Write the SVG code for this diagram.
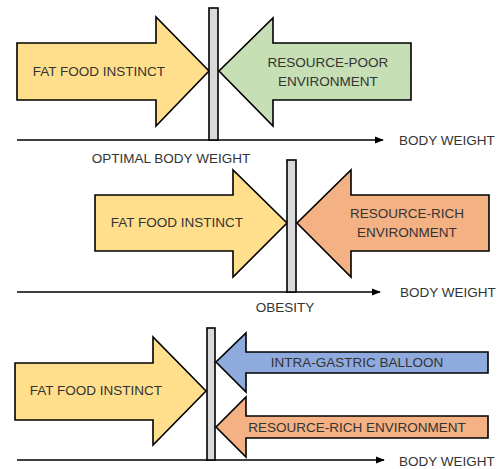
<svg xmlns="http://www.w3.org/2000/svg" width="500" height="469" viewBox="0 0 500 469">
<defs>
<style>
.ar{stroke:#000;stroke-width:1.6;stroke-linejoin:miter}
.y{fill:#FFDF8C}.g{fill:#C6DFB4}.o{fill:#F4B183}.b{fill:#8FAADC}
.bar{fill:#D9D9D9;stroke:#000;stroke-width:1.6}
.ax{stroke:#000;stroke-width:1.6;fill:none}
text{font-family:"Liberation Sans",Arial,sans-serif;font-size:13.5px;fill:#333333}
.m{text-anchor:middle}
</style>
<marker id="ah" viewBox="0 0 10 10" refX="9" refY="5" markerWidth="9" markerHeight="9" markerUnits="userSpaceOnUse" orient="auto"><path d="M0,1 L10,5 L0,9 Z" fill="#000"/></marker>
</defs>
<g id="connectors">
<line class="ax" x1="17" y1="140" x2="383" y2="140" marker-end="url(#ah)"/>
<line class="ax" x1="17" y1="292" x2="380" y2="292" marker-end="url(#ah)"/>
<line class="ax" x1="17" y1="460" x2="384" y2="460" marker-end="url(#ah)"/>
</g>
<g id="panel1">
<g id="fat1"><path class="ar y" d="M17,43 H156 V17 L209,71 L156,126 V100 H17 Z"/><text x="99" y="76" class="m">FAT FOOD INSTINCT</text></g>
<g id="poor"><path class="ar g" d="M411,43 H273 V18 L219,71 L273,126 V100 H411 Z"/><text x="328" y="67" class="m">RESOURCE-POOR</text><text x="328" y="86" class="m">ENVIRONMENT</text></g>
<g id="bar1"><rect class="bar" x="209" y="8" width="9" height="132"/></g>
<g id="lbl1"><text x="171" y="163" class="m">OPTIMAL BODY WEIGHT</text><text x="399" y="145">BODY WEIGHT</text></g>
</g>
<g id="panel2">
<g id="fat2"><path class="ar y" d="M95,195 H233 V170 L287,223 L233,277 V251 H95 Z"/><text x="177" y="227" class="m">FAT FOOD INSTINCT</text></g>
<g id="rich"><path class="ar o" d="M489,195 H351 V170 L297,223 L351,277 V251 H489 Z"/><text x="407" y="218" class="m">RESOURCE-RICH</text><text x="407" y="237" class="m">ENVIRONMENT</text></g>
<g id="bar2"><rect class="bar" x="287" y="160" width="9" height="132"/></g>
<g id="lbl2"><text x="285" y="312" class="m">OBESITY</text><text x="400" y="297">BODY WEIGHT</text></g>
</g>
<g id="panel3">
<g id="fat3"><path class="ar y" d="M15,363 H153 V337 L206,391 L153,445 V420 H15 Z"/><text x="96" y="395" class="m">FAT FOOD INSTINCT</text></g>
<g id="balloon"><path class="ar b" d="M488,352 H246 V333 L216,362 L246,392 V373 H488 Z"/><text x="357" y="367" class="m">INTRA-GASTRIC BALLOON</text></g>
<g id="rich3"><path class="ar o" d="M488,416 H246 V397 L216,427 L246,457 V438 H488 Z"/><text x="357" y="432" class="m">RESOURCE-RICH ENVIRONMENT</text></g>
<g id="bar3"><rect class="bar" x="207" y="328" width="8" height="132"/></g>
<g id="lbl3"><text x="399" y="466">BODY WEIGHT</text></g>
</g>
</svg>
